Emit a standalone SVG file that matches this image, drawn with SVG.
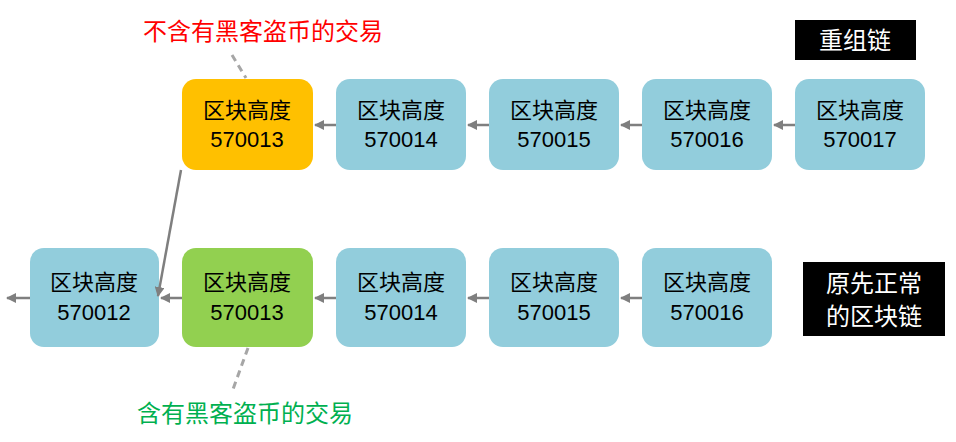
<svg xmlns="http://www.w3.org/2000/svg" width="956" height="442" viewBox="0 0 956 442">
<style>
.n{stroke:none}
.b{fill:#92CDDC}
.t{font-family:"Liberation Sans","Noto Sans CJK SC",sans-serif;font-size:22px;fill:#000;text-anchor:middle}
.c{stroke:#7F7F7F;stroke-width:2.5;fill:none}
.d{stroke:#A6A6A6;stroke-width:3;stroke-dasharray:7,5;fill:none}
.lab{font-family:"Liberation Sans","Noto Sans CJK SC",sans-serif;font-size:24px;text-anchor:middle}
</style>
<defs>
<marker id="a" viewBox="0 0 10 10" refX="9" refY="5" markerWidth="4" markerHeight="4" orient="auto"><path d="M0,0L10,5L0,10z" fill="#7F7F7F"/></marker>
</defs>
<rect width="956" height="442" fill="#fff"/>
<g id="n1"><rect x="182" y="79" width="131" height="91" rx="14" fill="#FFC000"/><text class="t" x="247" y="118">区块高度</text><text class="t" x="247" y="147">570013</text></g>
<g id="n2"><rect class="b" x="336" y="79" width="130" height="91" rx="14"/><text class="t" x="401" y="118">区块高度</text><text class="t" x="401" y="147">570014</text></g>
<g id="n3"><rect class="b" x="489" y="79" width="130" height="91" rx="14"/><text class="t" x="554" y="118">区块高度</text><text class="t" x="554" y="147">570015</text></g>
<g id="n4"><rect class="b" x="642" y="79" width="130" height="91" rx="14"/><text class="t" x="707" y="118">区块高度</text><text class="t" x="707" y="147">570016</text></g>
<g id="n5"><rect class="b" x="795" y="79" width="130" height="91" rx="14"/><text class="t" x="860" y="118">区块高度</text><text class="t" x="860" y="147">570017</text></g>
<g id="m0"><rect class="b" x="30" y="248" width="129" height="99" rx="14"/><text class="t" x="94" y="290">区块高度</text><text class="t" x="94" y="320">570012</text></g>
<g id="m1"><rect x="182" y="248" width="131" height="99" rx="14" fill="#92D050"/><text class="t" x="247" y="290">区块高度</text><text class="t" x="247" y="320">570013</text></g>
<g id="m2"><rect class="b" x="336" y="248" width="130" height="99" rx="14"/><text class="t" x="401" y="290">区块高度</text><text class="t" x="401" y="320">570014</text></g>
<g id="m3"><rect class="b" x="489" y="248" width="130" height="99" rx="14"/><text class="t" x="554" y="290">区块高度</text><text class="t" x="554" y="320">570015</text></g>
<g id="m4"><rect class="b" x="642" y="248" width="130" height="99" rx="14"/><text class="t" x="707" y="290">区块高度</text><text class="t" x="707" y="320">570016</text></g>
<g id="connectors">
<line class="c" x1="795" y1="125" x2="774" y2="125" marker-end="url(#a)"/>
<line class="c" x1="642" y1="125" x2="621" y2="125" marker-end="url(#a)"/>
<line class="c" x1="489" y1="125" x2="468" y2="125" marker-end="url(#a)"/>
<line class="c" x1="336" y1="125" x2="315" y2="125" marker-end="url(#a)"/>
<line class="c" x1="642" y1="298" x2="621" y2="298" marker-end="url(#a)"/>
<line class="c" x1="489" y1="298" x2="468" y2="298" marker-end="url(#a)"/>
<line class="c" x1="336" y1="298" x2="315" y2="298" marker-end="url(#a)"/>
<line class="c" x1="182" y1="298" x2="161" y2="298" marker-end="url(#a)"/>
<line class="c" x1="30" y1="298" x2="7" y2="298" marker-end="url(#a)"/>
<line class="c" x1="181" y1="170" x2="158" y2="296" marker-end="url(#a)"/>
<line class="d" x1="232" y1="55" x2="246" y2="78"/>
<line class="d" x1="248" y1="348" x2="232" y2="392"/>
</g>
<text class="lab" x="263" y="40" fill="#FF0000">不含有黑客盗币的交易</text>
<text class="lab" x="245" y="422" fill="#00B050">含有黑客盗币的交易</text>
<g id="k1"><rect x="795" y="20" width="121" height="40" fill="#000"/><text class="lab" x="855" y="49" fill="#fff">重组链</text></g>
<g id="k2"><rect x="803" y="262" width="142" height="74" fill="#000"/><text class="lab" x="874" y="292" fill="#fff">原先正常</text><text class="lab" x="874" y="325" fill="#fff">的区块链</text></g>
</svg>
